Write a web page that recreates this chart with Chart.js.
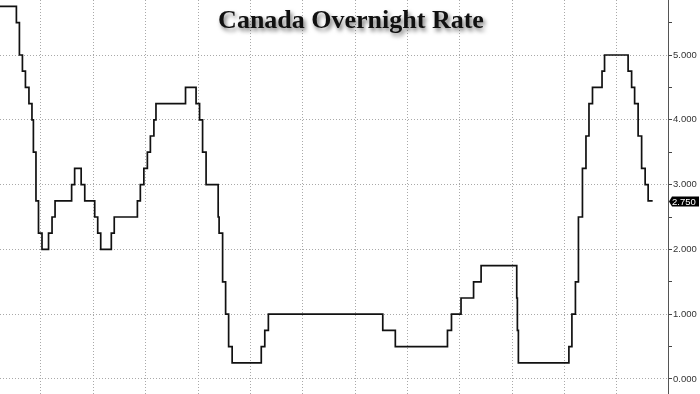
<!DOCTYPE html>
<html>
<head>
<meta charset="utf-8">
<script src="https://cdn.jsdelivr.net/npm/chart.js@4/dist/chart.umd.min.js"></script>
<style>
  html, body { margin: 0; padding: 0; background: #fff; }
</style>
</head>
<body>
<canvas id="rateChart" width="700" height="394"></canvas>
<script>
// Bank of Canada overnight rate decisions (date the new rate took effect)
const changeDates = [
  '2000-05-17', '2001-01-23', '2001-03-06', '2001-04-17', '2001-05-29', '2001-07-17',
  '2001-08-28', '2001-09-17', '2001-10-23', '2001-11-27', '2002-01-15', '2002-04-16',
  '2002-06-04', '2002-07-16', '2003-03-04', '2003-04-15', '2003-07-15', '2003-09-03',
  '2004-01-20', '2004-03-02', '2004-04-13', '2004-09-08', '2004-10-19', '2005-09-07',
  '2005-10-18', '2005-12-06', '2006-01-24', '2006-03-07', '2006-04-25', '2006-05-24',
  '2007-07-10', '2007-12-04', '2008-01-22', '2008-03-04', '2008-04-22', '2008-10-08',
  '2008-10-21', '2008-12-09', '2009-01-20', '2009-03-03', '2009-04-21', '2010-06-01',
  '2010-07-20', '2010-09-08', '2015-01-21', '2015-07-15', '2017-07-12', '2017-09-06',
  '2018-01-17', '2018-07-11', '2018-10-24', '2020-03-04', '2020-03-13', '2020-03-27',
  '2022-03-02', '2022-04-13', '2022-06-01', '2022-07-13', '2022-09-07', '2022-10-26',
  '2022-12-07', '2023-01-25', '2023-06-07', '2023-07-12', '2024-06-05', '2024-07-24',
  '2024-09-04', '2024-10-23', '2024-12-11', '2025-01-29', '2025-03-12', '2025-05-14'
];
const rates = [
  5.75, 5.50, 5.00, 4.75, 4.50, 4.25,
  4.00, 3.50, 2.75, 2.25, 2.00, 2.25,
  2.50, 2.75, 3.00, 3.25, 3.00, 2.75,
  2.50, 2.25, 2.00, 2.25, 2.50, 2.75,
  3.00, 3.25, 3.50, 3.75, 4.00, 4.25,
  4.50, 4.25, 4.00, 3.50, 3.00, 2.50,
  2.25, 1.50, 1.00, 0.50, 0.25, 0.50,
  0.75, 1.00, 0.75, 0.50, 0.75, 1.00,
  1.25, 1.50, 1.75, 1.25, 0.75, 0.25,
  0.50, 1.00, 1.50, 2.50, 3.25, 3.75,
  4.25, 4.50, 4.75, 5.00, 4.75, 4.50,
  4.25, 3.75, 3.25, 3.00, 2.75, 2.75
];
const gridYears = [2002, 2004, 2006, 2008, 2010, 2012, 2014, 2016, 2018, 2020, 2022, 2024];
const yTicks = [0, 0.5, 1, 1.5, 2, 2.5, 3, 3.5, 4, 4.5, 5, 5.5];

function toYear(s) {
  const d = new Date(s + 'T00:00:00Z');
  const y = d.getUTCFullYear();
  const a = Date.UTC(y, 0, 1), b = Date.UTC(y + 1, 0, 1);
  return y + (d.getTime() - a) / (b - a);
}

const points = changeDates.map((d, i) => ({ x: toYear(d), y: rates[i] }));

const titlePlugin = {
  id: 'zhTitle',
  afterDraw(chart) {
    const ctx = chart.ctx;
    ctx.save();
    ctx.font = 'bold 26px "Liberation Serif", "DejaVu Serif", serif';
    ctx.textAlign = 'center';
    ctx.textBaseline = 'alphabetic';
    ctx.shadowColor = 'rgba(0,0,0,0.55)';
    ctx.shadowBlur = 4;
    ctx.shadowOffsetX = 2;
    ctx.shadowOffsetY = 3;
    ctx.fillStyle = '#111';
    ctx.fillText('Canada Overnight Rate', 351, 28);
    ctx.restore();
  }
};

const lastValuePlugin = {
  id: 'lastValue',
  afterDraw(chart) {
    const ctx = chart.ctx;
    const yScale = chart.scales.y;
    const v = rates[rates.length - 1];
    const y = Math.round(yScale.getPixelForValue(v)) + 0.5;
    const x0 = chart.chartArea.right + 1;
    ctx.save();
    ctx.fillStyle = '#000';
    ctx.beginPath();
    ctx.moveTo(x0, y);
    ctx.lineTo(x0 + 3, y - 5);
    ctx.lineTo(699, y - 5);
    ctx.lineTo(699, y + 5);
    ctx.lineTo(x0 + 3, y + 5);
    ctx.closePath();
    ctx.fill();
    ctx.fillStyle = '#fff';
    ctx.font = '9.5px "Liberation Sans", Arial, sans-serif';
    ctx.textBaseline = 'middle';
    ctx.fillText(v.toFixed(3), x0 + 3, y + 0.5);
    ctx.restore();
  }
};

new Chart(document.getElementById('rateChart').getContext('2d'), {
  type: 'line',
  data: {
    datasets: [{
      label: 'Canada Overnight Rate',
      data: points,
      stepped: true,
      borderColor: '#111',
      borderWidth: 1.7,
      pointRadius: 0,
      fill: false
    }]
  },
  options: {
    responsive: false,
    animation: false,
    layout: { padding: 0 },
    plugins: { legend: { display: false }, tooltip: { enabled: false } },
    scales: {
      x: {
        type: 'linear',
        min: 2000.434,
        max: 2025.95,
        afterBuildTicks: s => { s.ticks = gridYears.map(v => ({ value: v })); },
        afterFit: s => { s.height = 0; },
        ticks: { display: false },
        grid: { color: '#a9a9a9', drawTicks: false },
        border: { display: false, dash: [1, 2] }
      },
      y: {
        position: 'right',
        min: -0.2315,
        max: 5.849,
        afterBuildTicks: s => { s.ticks = yTicks.map(v => ({ value: v })); },
        afterFit: s => { s.width = 32; s.paddingTop = 0; s.paddingBottom = 0; },
        ticks: {
          padding: 1,
          color: '#333',
          font: { family: '"Liberation Sans", Arial, sans-serif', size: 9.5 },
          callback: v => Number.isInteger(v) ? v.toFixed(3) : ''
        },
        grid: {
          color: c => (c.tick && Number.isInteger(c.tick.value)) ? '#a9a9a9' : 'rgba(0,0,0,0)',
          tickColor: '#444',
          tickLength: 4
        },
        border: { display: true, color: '#555', width: 1, dash: [1, 2] }
      }
    }
  },
  plugins: [titlePlugin, lastValuePlugin]
});
</script>
</body>
</html>
